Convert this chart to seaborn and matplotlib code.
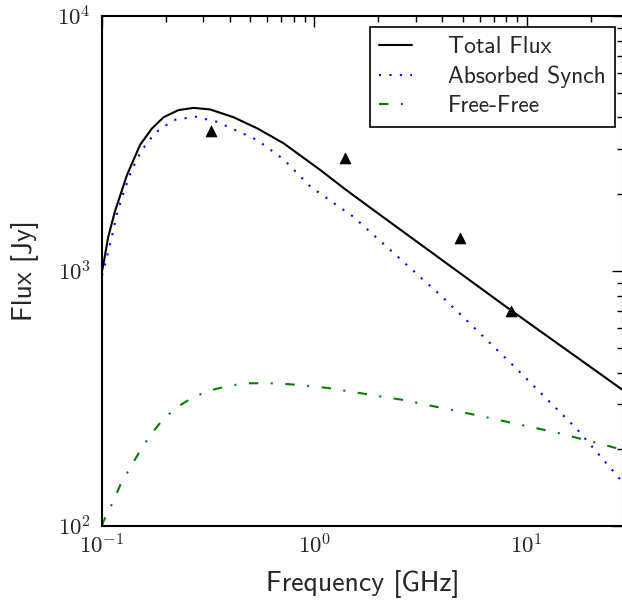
import numpy as np
import pandas as pd
import matplotlib
matplotlib.use("Agg")
import matplotlib.pyplot as plt
from matplotlib import ticker
import seaborn as sns

# model curves (GHz, Jy)
total_freq = [0.1, 0.1014, 0.107, 0.115, 0.131, 0.151, 0.171, 0.195, 0.229, 0.270,
              0.323, 0.416, 0.537, 0.716, 1.066, 1.40, 1.90, 8.4, 28.4]
total_flux = [1000, 1057, 1362, 1711, 2376, 3120, 3606, 4010, 4276, 4363,
              4302, 4010, 3630, 3170, 2490, 2090, 1733, 703, 341]

synch_freq = [0.1, 0.106, 0.112, 0.118, 0.127, 0.138, 0.154, 0.178, 0.217, 0.275,
              0.348, 0.432, 0.537, 0.716, 0.957, 1.53, 4.06, 8.87, 17.4, 28.4]
synch_flux = [960, 1155, 1397, 1699, 2061, 2490, 2985, 3483, 3908, 4029,
              3846, 3548, 3266, 2743, 2144, 1630, 783, 417, 238, 148]

ff_freq = [0.1, 0.1014, 0.112, 0.122, 0.135, 0.150, 0.168, 0.193, 0.225, 0.270,
           0.327, 0.402, 0.496, 0.616, 0.757, 1.15, 2.63, 6.07, 14.0, 28.4]
ff_flux = [100, 104, 123, 145, 168, 195, 226, 261, 292, 321,
           341, 356, 363, 363, 360, 348, 312, 270, 232, 199]

# measured points
obs_freq = [0.327, 1.40, 4.83, 8.45]
obs_flux = [3540, 2770, 1346, 695]

sns.set_style("white")
plt.rcParams["font.family"] = ["cmss10", "DejaVu Sans"]
plt.rcParams["mathtext.fontset"] = "cm"
plt.rcParams["axes.unicode_minus"] = True

fig = plt.figure(figsize=(6.22, 6.07), dpi=100)
ax = fig.add_axes([0.164, 0.1334, 0.8376, 0.8402])

sns.lineplot(x=total_freq, y=total_flux, ax=ax, color="black", lw=1.5,
             label="Total Flux", sort=False)
sns.lineplot(x=synch_freq, y=synch_flux, ax=ax, color="blue", lw=1.5,
             linestyle=(0, (1, 4)), label="Absorbed Synch", sort=False)
sns.lineplot(x=ff_freq, y=ff_flux, ax=ax, color="green", lw=1.5,
             linestyle=(0, (4.5, 6, 1, 6)), label="Free-Free", sort=False)
sns.scatterplot(x=obs_freq, y=obs_flux, ax=ax, marker="^", color="black",
                s=60, edgecolor="black", zorder=5)

ax.set_xscale("log")
ax.set_yscale("log")
ax.set_xlim(0.1, 28.4)
ax.set_ylim(100, 10000)

# powers of ten in computer modern, like the original
pow10 = ticker.FuncFormatter(lambda v, _: r"$10^{%d}$" % int(round(np.log10(v))))
ax.xaxis.set_major_formatter(pow10)
ax.yaxis.set_major_formatter(pow10)

ax.set_xlabel("Frequency [GHz]", fontsize=20, labelpad=8)
ax.set_ylabel("Flux [Jy]", fontsize=20, labelpad=13)

ax.tick_params(which="both", direction="in", top=True, right=True,
               labelsize=16.5, width=1, color="black")
ax.tick_params(axis="y", pad=8)
ax.tick_params(axis="x", pad=6)
ax.tick_params(which="major", length=8)
ax.tick_params(which="minor", length=4)
for s in ax.spines.values():
    s.set_color("black")
    s.set_linewidth(1.5)

leg = ax.legend(loc="upper right", bbox_to_anchor=(615 / 622, 1 - 27 / 607),
                bbox_transform=fig.transFigure, borderaxespad=0,
                fontsize=17, fancybox=False, edgecolor="black", framealpha=1,
                handlelength=1.4, handletextpad=1.5, labelspacing=0.3,
                borderpad=0.4)
leg.get_frame().set_linewidth(1.2)

fig.savefig("out.png", dpi=100)
